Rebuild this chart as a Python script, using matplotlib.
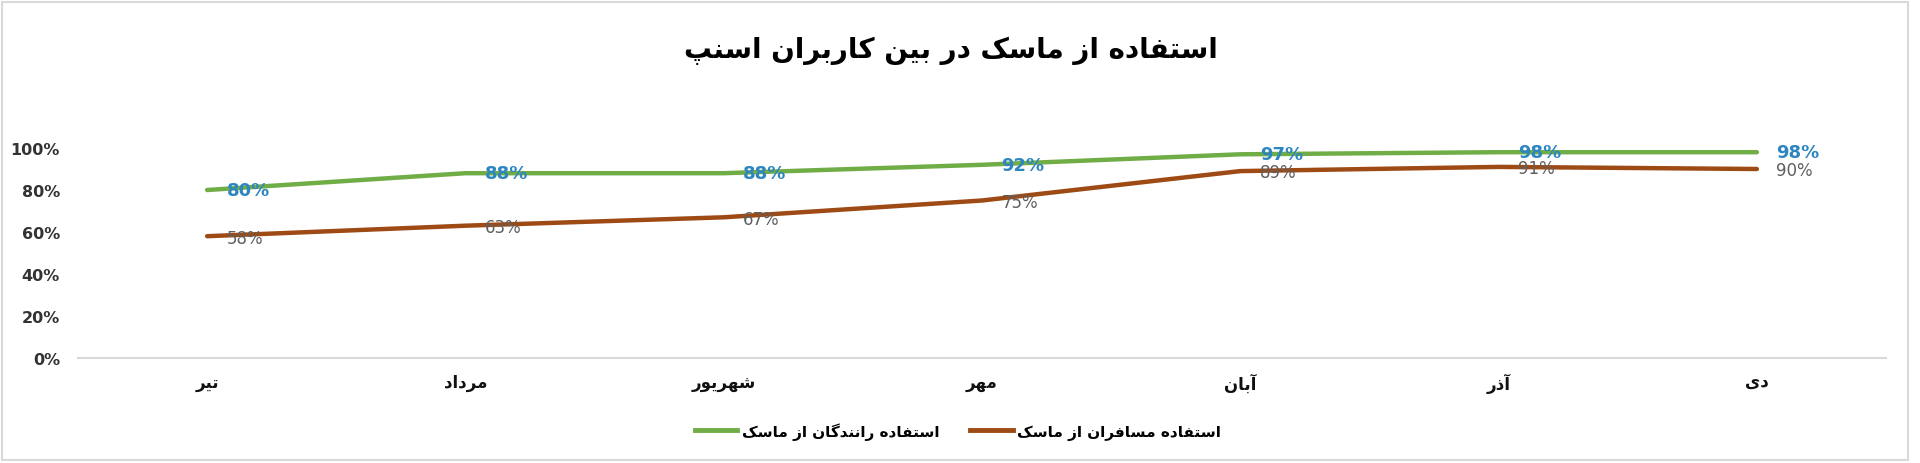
import matplotlib
matplotlib.use("Agg")
import matplotlib.pyplot as plt
from matplotlib.patches import Rectangle
from matplotlib.lines import Line2D

# ---------------- data ----------------
title = "استفاده از ماسک در بین کاربران اسنپ"
months = ["تیر", "مرداد", "شهریور", "مهر", "آبان", "آذر", "دی"]
drivers = [0.80, 0.88, 0.88, 0.92, 0.97, 0.98, 0.98]
passengers = [0.58, 0.63, 0.67, 0.75, 0.89, 0.91, 0.90]
drivers_label = "استفاده رانندگان از ماسک"
passengers_label = "استفاده مسافران از ماسک"
yticks = [0, 0.2, 0.4, 0.6, 0.8, 1.0]

# ------------- simple Arabic/Persian shaping -------------
FORMS = {
    '\u0627': ('\uFE8D', '\uFE8E', None, None),
    '\u0622': ('\uFE81', '\uFE82', None, None),
    '\u0628': ('\uFE8F', '\uFE90', '\uFE91', '\uFE92'),
    '\u067E': ('\uFB56', '\uFB57', '\uFB58', '\uFB59'),
    '\u062A': ('\uFE95', '\uFE96', '\uFE97', '\uFE98'),
    '\u062B': ('\uFE99', '\uFE9A', '\uFE9B', '\uFE9C'),
    '\u062C': ('\uFE9D', '\uFE9E', '\uFE9F', '\uFEA0'),
    '\u0686': ('\uFB7A', '\uFB7B', '\uFB7C', '\uFB7D'),
    '\u062D': ('\uFEA1', '\uFEA2', '\uFEA3', '\uFEA4'),
    '\u062E': ('\uFEA5', '\uFEA6', '\uFEA7', '\uFEA8'),
    '\u062F': ('\uFEA9', '\uFEAA', None, None),
    '\u0630': ('\uFEAB', '\uFEAC', None, None),
    '\u0631': ('\uFEAD', '\uFEAE', None, None),
    '\u0632': ('\uFEAF', '\uFEB0', None, None),
    '\u0698': ('\uFB8A', '\uFB8B', None, None),
    '\u0633': ('\uFEB1', '\uFEB2', '\uFEB3', '\uFEB4'),
    '\u0634': ('\uFEB5', '\uFEB6', '\uFEB7', '\uFEB8'),
    '\u0635': ('\uFEB9', '\uFEBA', '\uFEBB', '\uFEBC'),
    '\u0636': ('\uFEBD', '\uFEBE', '\uFEBF', '\uFEC0'),
    '\u0637': ('\uFEC1', '\uFEC2', '\uFEC3', '\uFEC4'),
    '\u0638': ('\uFEC5', '\uFEC6', '\uFEC7', '\uFEC8'),
    '\u0639': ('\uFEC9', '\uFECA', '\uFECB', '\uFECC'),
    '\u063A': ('\uFECD', '\uFECE', '\uFECF', '\uFED0'),
    '\u0641': ('\uFED1', '\uFED2', '\uFED3', '\uFED4'),
    '\u0642': ('\uFED5', '\uFED6', '\uFED7', '\uFED8'),
    '\u06A9': ('\uFB8E', '\uFB8F', '\uFB90', '\uFB91'),
    '\u06AF': ('\uFB92', '\uFB93', '\uFB94', '\uFB95'),
    '\u0644': ('\uFEDD', '\uFEDE', '\uFEDF', '\uFEE0'),
    '\u0645': ('\uFEE1', '\uFEE2', '\uFEE3', '\uFEE4'),
    '\u0646': ('\uFEE5', '\uFEE6', '\uFEE7', '\uFEE8'),
    '\u0648': ('\uFEED', '\uFEEE', None, None),
    '\u0647': ('\uFEE9', '\uFEEA', '\uFEEB', '\uFEEC'),
    '\u06CC': ('\uFBFC', '\uFBFD', '\uFBFE', '\uFBFF'),
}


def dual(c):
    return c in FORMS and FORMS[c][2] is not None


def shape(text):
    out = []
    n = len(text)
    for i, c in enumerate(text):
        if c not in FORMS:
            out.append(c)
            continue
        prev = text[i - 1] if i > 0 else ''
        nxt = text[i + 1] if i < n - 1 else ''
        pc = dual(prev)
        nc = dual(c) and (nxt in FORMS)
        iso, fin, ini, med = FORMS[c]
        if pc and nc:
            out.append(med)
        elif pc:
            out.append(fin)
        elif nc:
            out.append(ini)
        else:
            out.append(iso)
    return ''.join(out)[::-1]


plt.rcParams['font.family'] = ['DejaVu Sans']

W, H = 1920, 464
fig = plt.figure(figsize=(W / 100, H / 100), dpi=100)
fig.patch.set_facecolor('white')

# chart border
fig.add_artist(Rectangle((2 / W, 3 / H), 1906 / W, 458 / H, transform=fig.transFigure,
                         fill=False, edgecolor='#D9D9D9', linewidth=1.5))

ax = fig.add_axes([78 / W, 105 / H, (1886 - 78) / W, (359 - 149) / H])
x = list(range(len(months)))

green = '#70AD47'
brown = '#9E4A14'
ax.plot(x, drivers, color=green, lw=3.2, solid_capstyle='round', clip_on=False, zorder=3)
ax.plot(x, passengers, color=brown, lw=3.2, solid_capstyle='round', clip_on=False, zorder=3)

for xi, v in zip(x, drivers):
    ax.annotate(f"{round(v * 100)}%", (xi, v), xytext=(14, 0), textcoords='offset points',
                ha='left', va='center', fontsize=13, color='#2E86C1', fontweight='bold', zorder=4)
for xi, v in zip(x, passengers):
    ax.annotate(f"{round(v * 100)}%", (xi, v), xytext=(14, -1), textcoords='offset points',
                ha='left', va='center', fontsize=12, color='#5F5F5F', zorder=4)

ax.set_xlim(-0.5, len(months) - 0.5)
ax.set_ylim(0, 1.0)
ax.set_yticks(yticks)
ax.set_yticklabels([f"{round(t * 100)}%" for t in yticks], fontsize=11.5, fontweight='bold', color='#333333')
ax.set_xticks(x)
ax.set_xticklabels([shape(m) for m in months], fontsize=12, fontweight='bold', color='#111111')
ax.tick_params(axis='both', length=0)
ax.tick_params(axis='y', pad=13)
ax.tick_params(axis='x', pad=11)
for s in ['top', 'right', 'left']:
    ax.spines[s].set_visible(False)
ax.spines['bottom'].set_color('#D9D9D9')
ax.spines['bottom'].set_linewidth(1.5)

fig.text(0.495, (464 - 51) / H, shape(title), ha='center', va='center', fontsize=20,
         fontweight='bold', color='black')

handles = [Line2D([], [], color=green, lw=3.5), Line2D([], [], color=brown, lw=3.5)]
fig.legend(handles, [shape(drivers_label), shape(passengers_label)], loc='center',
           bbox_to_anchor=(958 / W, (464 - 432) / H), ncol=2, frameon=False,
           prop={'size': 11, 'weight': 'bold'}, handlelength=2.8, handletextpad=0.3,
           columnspacing=2.0)

fig.savefig('out.png', dpi=100, facecolor='white')
